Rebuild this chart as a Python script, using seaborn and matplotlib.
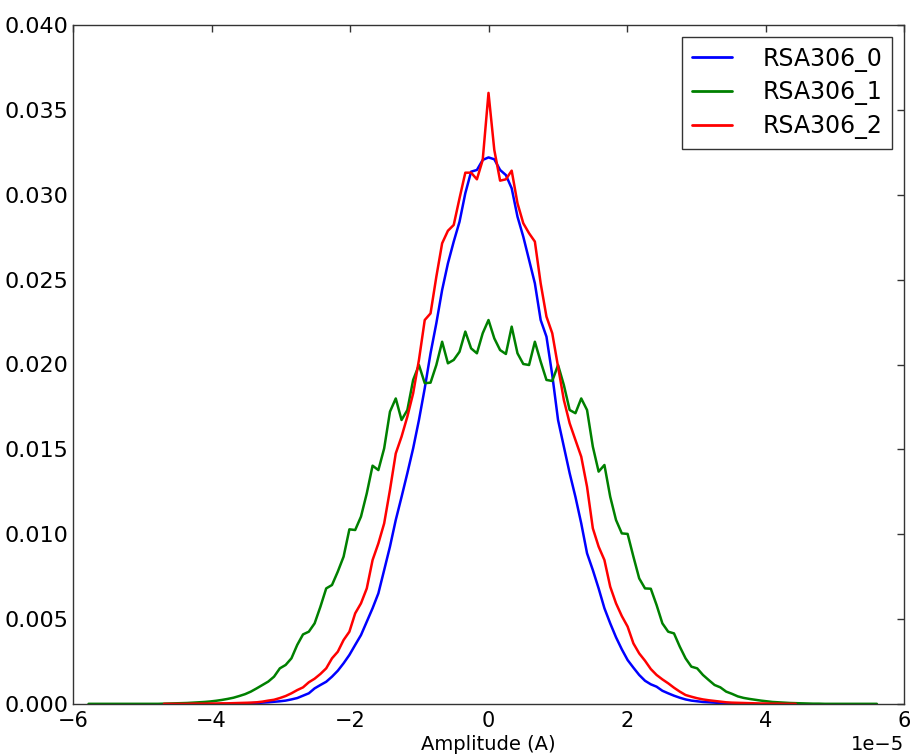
import numpy as np
import pandas as pd
import matplotlib
matplotlib.use("Agg")
import matplotlib.pyplot as plt
import seaborn as sns

# Histogram bin geometry (bin index k -> amplitude k * BIN_WIDTH, in units of 1e-5 A)
BIN_WIDTH = 0.0837e-5

series_names = ["RSA306_0", "RSA306_1", "RSA306_2"]

# RSA306_0: bins k = -45 .. 45
k0_start = -45
rsa0 = [0.00001, 0.00002, 0.00003, 0.00004, 0.00005, 0.00006, 0.00008, 0.0001, 0.00013, 0.00016,
        0.0002, 0.00027, 0.00035, 0.00049, 0.00063, 0.00092, 0.00112, 0.00131, 0.00161, 0.00196,
        0.0024, 0.00289, 0.00348, 0.00406, 0.00485, 0.00564, 0.00652, 0.00789, 0.00927, 0.01084,
        0.0122, 0.0136, 0.01506, 0.01673, 0.0186, 0.02066, 0.02243, 0.02439, 0.02596, 0.02724,
        0.02841, 0.03009, 0.03136, 0.03146, 0.03205, 0.0322, 0.03209, 0.03146, 0.03116, 0.03038,
        0.02871, 0.02753, 0.02616, 0.02478, 0.02262, 0.02164, 0.01938, 0.01673, 0.01516, 0.0136,
        0.0122, 0.01064, 0.00888, 0.00789, 0.00681, 0.00564, 0.00475, 0.00393, 0.00322, 0.00259,
        0.00214, 0.00171, 0.00137, 0.00116, 0.00102, 0.00078, 0.00063, 0.00049, 0.00037, 0.00027,
        0.0002, 0.00016, 0.00012, 0.0001, 0.00008, 0.00006, 0.00005, 0.00004, 0.00003, 0.00002,
        0.00001]

# RSA306_1: bins k = -69 .. 67
k1_start = -69
rsa1 = [0.00001, 0.00001, 0.00001, 0.00001, 0.00001, 0.00001, 0.00001, 0.00001, 0.00001, 0.00001,
        0.00001, 0.00001, 0.00001, 0.00002, 0.00003, 0.00004, 0.00005, 0.00006, 0.00008, 0.0001,
        0.00012, 0.00015, 0.00019, 0.00024, 0.0003, 0.00037, 0.00047, 0.00058,
        0.00073, 0.00092, 0.00112, 0.00132, 0.00161, 0.0021, 0.0023, 0.00269, 0.00348, 0.0041,
        0.00426, 0.00475, 0.00573, 0.00681, 0.00701, 0.0078, 0.00868, 0.01029, 0.01025, 0.01104,
        0.01241, 0.01404, 0.01378, 0.01506, 0.01722, 0.0180, 0.01673, 0.01732, 0.01909, 0.01997,
        0.0189, 0.01893, 0.01997, 0.02134, 0.02007, 0.02027, 0.02075, 0.02194, 0.02095, 0.02066,
        0.02184, 0.02262, 0.02154, 0.02085, 0.02062, 0.02223, 0.02066, 0.02003, 0.01997, 0.02134,
        0.02017, 0.01909, 0.01903, 0.01997, 0.01879, 0.01732, 0.01713, 0.0180, 0.01732, 0.01516,
        0.01369, 0.01408, 0.01221, 0.01084, 0.01005, 0.01002, 0.00868, 0.0074, 0.00681, 0.00679,
        0.00583, 0.00475, 0.00426, 0.00416, 0.00338, 0.00269, 0.0022, 0.0021, 0.00171, 0.00141,
        0.00112, 0.00098, 0.00073,
        0.0006, 0.00045, 0.00036, 0.0003, 0.00025, 0.0002, 0.00016, 0.00012, 0.0001, 0.00008,
        0.00006, 0.00005, 0.00004, 0.00003, 0.00002, 0.00002, 0.00001, 0.00001, 0.00001, 0.00001,
        0.00001, 0.00001, 0.00001, 0.00001, 0.00001, 0.00001]

# RSA306_2: bins k = -56 .. 53
k2_start = -56
rsa2 = [0.00001, 0.00001, 0.00001, 0.00001, 0.00001, 0.00002, 0.00002, 0.00002, 0.00003, 0.00003,
        0.00004, 0.00004, 0.00005, 0.00006, 0.00007,
        0.00008, 0.0001, 0.00014, 0.0002, 0.00025, 0.00035, 0.00047, 0.00063, 0.00082, 0.00098,
        0.00128, 0.00149, 0.00177, 0.0021, 0.00269, 0.00308, 0.00377, 0.00426, 0.00534, 0.00593,
        0.00681, 0.00848, 0.00946, 0.01064, 0.01261, 0.01476, 0.01575, 0.01693, 0.0183, 0.02027,
        0.02262, 0.02301, 0.02517, 0.02714, 0.02788, 0.02822, 0.02979, 0.0313, 0.0313, 0.03091,
        0.03205, 0.0360, 0.03264, 0.03083, 0.03091, 0.03142, 0.0295, 0.02832, 0.02773, 0.02724,
        0.02478, 0.02282, 0.02184, 0.01987, 0.01791, 0.01654, 0.01555, 0.01457, 0.0128, 0.01035,
        0.00927, 0.00848, 0.00691, 0.00593, 0.00518, 0.00456, 0.00357, 0.00298, 0.00255, 0.00206,
        0.00171, 0.00145, 0.00122, 0.00096, 0.00073, 0.00053, 0.00043, 0.00034, 0.00027, 0.00022,
        0.00018, 0.00014, 0.0001,
        0.00008, 0.00007, 0.00006, 0.00005, 0.00004, 0.00003, 0.00003, 0.00002, 0.00002, 0.00001,
        0.00001, 0.00001]

line_colors = ["#0000ff", "#008000", "#ff0000"]

frames = []
for name, start, vals in zip(series_names, [k0_start, k1_start, k2_start], [rsa0, rsa1, rsa2]):
    k = np.arange(start, start + len(vals))
    frames.append(pd.DataFrame({"Amplitude": k * BIN_WIDTH, "Density": vals, "Series": name}))
df = pd.concat(frames, ignore_index=True)

sns.set_style("white")
plt.rcParams["font.family"] = ["DejaVu Sans"]
plt.rcParams["text.color"] = "black"
plt.rcParams["axes.labelcolor"] = "black"
plt.rcParams["xtick.color"] = "black"
plt.rcParams["ytick.color"] = "black"

fig = plt.figure(figsize=(9.11, 7.56), dpi=100)
ax = fig.add_axes([73 / 911, 1 - 704 / 756, (904 - 73) / 911, (704 - 25) / 756])

sns.lineplot(data=df, x="Amplitude", y="Density", hue="Series", hue_order=series_names,
             palette=dict(zip(series_names, line_colors)), estimator=None, sort=True,
             linewidth=1.8, ax=ax)

ax.set_xlim(-6e-5, 6e-5)
ax.set_ylim(0, 0.040)
ax.set_xticks(np.arange(-6, 7, 2) * 1e-5)
ax.set_yticks(np.arange(0, 0.0401, 0.005))
ax.set_xlabel("Amplitude (A)", fontsize=14, labelpad=3, color="black")
ax.set_ylabel("")
ax.tick_params(direction="in", top=True, right=True, length=5, width=1, labelsize=16,
               color="#333333", labelcolor="black")
ax.tick_params(axis="x", pad=5, labelsize=15)
ax.tick_params(axis="y", pad=3.5)
ax.xaxis.get_offset_text().set_fontsize(14)
ax.xaxis.get_offset_text().set_color("black")
for s in ax.spines.values():
    s.set_color("#333333")
    s.set_linewidth(1)

leg = ax.legend(loc="upper right", fontsize=17, frameon=True, fancybox=False, framealpha=1,
                edgecolor="#333333", handlelength=1.7, borderpad=0.42, labelspacing=0.37,
                handletextpad=1.3, borderaxespad=0.5)
leg.get_frame().set_linewidth(1)
for t in leg.get_texts():
    t.set_color("black")
for h in leg.get_lines():
    h.set_linewidth(2)

fig.savefig("out.png", dpi=100)
